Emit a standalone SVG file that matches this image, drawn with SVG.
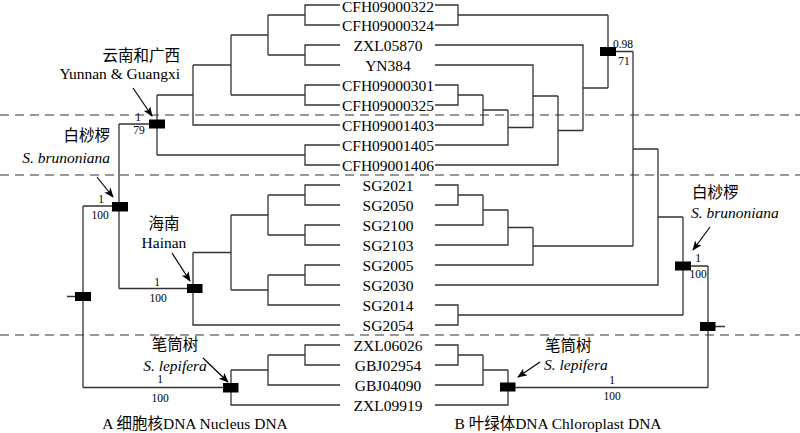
<svg xmlns="http://www.w3.org/2000/svg" width="800" height="433" viewBox="0 0 800 433">
<style>
text{font-family:"Liberation Serif","Times New Roman","Noto Sans CJK SC",serif;fill:#000}
.tip{font-size:15.5px;text-anchor:middle}
.lab{font-size:15.5px}
.it{font-style:italic}
.cap{font-size:15.5px;text-anchor:middle}
.sup{font-size:11.5px;text-anchor:middle}
.tree{fill:none;stroke:#333;stroke-width:1.3}
.dash{stroke:#333;stroke-width:1.2;stroke-dasharray:9 6}
.arr{stroke:#000;stroke-width:1.2;marker-end:url(#ah)}
.box{fill:#000}
</style>
<defs>
<marker id="ah" markerWidth="10" markerHeight="8" refX="9" refY="4" orient="auto" markerUnits="userSpaceOnUse">
<path d="M0,0 L10,4 L0,8 L2.5,4 Z" fill="#000"/>
</marker>
</defs>
<rect width="800" height="433" fill="#fff"/>
<g id="dividers">
<line class="dash" x1="0" y1="115" x2="800" y2="115"/>
<line class="dash" x1="0" y1="175" x2="800" y2="175"/>
<line class="dash" x1="0" y1="335" x2="800" y2="335"/>
</g>
<g id="connectors">
<path class="tree" d="M340,5 H305 V25 H340 M305,15 H268 M340,45 H305 V65 H340 M305,55 H268 M268,15 V55 M268,35 H231 M340,85 H305 V105 H340 M305,95 H231 M231,35 V95 M231,65 H193 M193,65 V125 H340 M193,95 H157 M340,145 H305 V165 H340 M305,155 H157 M157,95 V155 M157,124 H119"/>
<path class="tree" d="M340,185 H305 V205 H340 M305,195 H268 M340,225 H305 V245 H340 M305,235 H268 M268,195 V235 M268,215 H231 M340,265 H305 V285 H340 M305,275 H268 M268,275 V305 H340 M268,290 H231 M231,215 V290 M231,252.5 H193 M193,252.5 V325 H340 M193,288.5 H119 M119,124 V288.5 M119,206 H83"/>
<path class="tree" d="M340,345 H305 V365 H340 M305,355 H268 M268,355 V385 H340 M268,370 H231 M231,370 V405 H340 M231,387.5 H83 M83,206 V387.5 M67,296.5 H75"/>
<path class="tree" d="M435,5 H458 V25 H435 M458,15 H608 M435,85 H458 V105 H435 M458,95 H483 M483,95 V125 H435 M483,110 H508 M508,110 V145 H435 M508,127.5 H533 M435,65 H533 V127.5 M533,96 H558 M558,96 V165 H435 M558,130.5 H583 M435,45 H583 V130.5 M583,88 H608 M608,15 V88 M608,51.5 H633 M633,51.5 V246 M633,149 H658"/>
<path class="tree" d="M435,185 H458 V205 H435 M458,195 H483 M483,195 V225 H435 M483,210 H508 M508,210 V245 H435 M508,227.5 H533 M533,227.5 V265 H435 M533,246 H633 M658,149 V285 H435 M658,217 H683 M435,305 H458 V325 H435 M458,315 H683 M683,217 V315 M683,266 H708 M708,266 V387.5 M715,326.5 H725"/>
<path class="tree" d="M435,345 H458 V365 H435 M458,355 H483 M483,355 V385 H435 M483,370 H508 M508,370 V405 H435 M508,387.5 H708"/>
<line class="arr" x1="133" y1="88" x2="152" y2="116"/>
<line class="arr" x1="97" y1="177" x2="113" y2="197"/>
<line class="arr" x1="172" y1="253" x2="190" y2="281"/>
<line class="arr" x1="203" y1="358" x2="228" y2="382"/>
<line class="arr" x1="710" y1="227" x2="693" y2="250"/>
<line class="arr" x1="540" y1="362" x2="518" y2="377"/>
</g>
<g id="tips">
<text class="tip" x="388" y="11.5">CFH09000322</text>
<text class="tip" x="388" y="30.5">CFH09000324</text>
<text class="tip" x="388" y="50.5">ZXL05870</text>
<text class="tip" x="388" y="70.5">YN384</text>
<text class="tip" x="388" y="90.5">CFH09000301</text>
<text class="tip" x="388" y="110.5">CFH09000325</text>
<text class="tip" x="388" y="130.5">CFH09001403</text>
<text class="tip" x="388" y="150.5">CFH09001405</text>
<text class="tip" x="388" y="170.5">CFH09001406</text>
<text class="tip" x="388" y="190.5">SG2021</text>
<text class="tip" x="388" y="210.5">SG2050</text>
<text class="tip" x="388" y="230.5">SG2100</text>
<text class="tip" x="388" y="250.5">SG2103</text>
<text class="tip" x="388" y="270.5">SG2005</text>
<text class="tip" x="388" y="290.5">SG2030</text>
<text class="tip" x="388" y="310.5">SG2014</text>
<text class="tip" x="388" y="330.5">SG2054</text>
<text class="tip" x="388" y="350.5">ZXL06026</text>
<text class="tip" x="388" y="370.5">GBJ02954</text>
<text class="tip" x="388" y="390.5">GBJ04090</text>
<text class="tip" x="388" y="410.5">ZXL09919</text>
</g>
<g id="node-yunnan">
<rect class="box" x="149" y="119.5" width="16" height="9"/>
<text class="sup" x="138" y="121">1</text>
<text class="sup" x="139" y="134">79</text>
<text class="lab" x="180" y="61" text-anchor="end">云南和广西</text>
<text class="lab" x="180" y="79" text-anchor="end">Yunnan &amp; Guangxi</text>
</g>
<g id="node-brun-a">
<rect class="box" x="112" y="202" width="16" height="9.5"/>
<text class="sup" x="101" y="203">1</text>
<text class="sup" x="100" y="219">100</text>
<text class="lab" x="110" y="141" text-anchor="end">白桫椤</text>
<text class="lab it" x="110" y="163" text-anchor="end">S. brunoniana</text>
</g>
<g id="node-hainan">
<rect class="box" x="187" y="284" width="15.5" height="9"/>
<text class="sup" x="157" y="286">1</text>
<text class="sup" x="158" y="302">100</text>
<text class="lab" x="164" y="229" text-anchor="middle">海南</text>
<text class="lab" x="164" y="248" text-anchor="middle">Hainan</text>
</g>
<g id="node-root-a">
<rect class="box" x="75" y="292" width="16" height="9"/>
</g>
<g id="node-lepifera-a">
<rect class="box" x="223" y="383" width="15.5" height="9.5"/>
<text class="sup" x="160" y="383">1</text>
<text class="sup" x="160" y="402">100</text>
<text class="lab" x="175" y="350" text-anchor="middle">笔筒树</text>
<text class="lab it" x="175" y="371" text-anchor="middle">S. lepifera</text>
</g>
<g id="node-yunnan-b">
<rect class="box" x="600" y="47" width="16" height="9"/>
<text class="sup" x="623" y="48">0.98</text>
<text class="sup" x="624" y="65">71</text>
</g>
<g id="node-brun-b">
<rect class="box" x="675" y="261.5" width="16" height="9"/>
<text class="sup" x="698" y="262">1</text>
<text class="sup" x="698" y="278">100</text>
<text class="lab" x="692" y="198">白桫椤</text>
<text class="lab it" x="691" y="218">S. brunoniana</text>
</g>
<g id="node-root-b">
<rect class="box" x="700" y="322" width="15.5" height="9"/>
</g>
<g id="node-lepifera-b">
<rect class="box" x="500" y="382.5" width="15.5" height="9"/>
<text class="sup" x="612" y="384">1</text>
<text class="sup" x="612" y="400">100</text>
<text class="lab" x="545" y="351">笔筒树</text>
<text class="lab it" x="544" y="370">S. lepifera</text>
</g>
<g id="captions">
<text class="cap" x="195" y="429">A 细胞核DNA Nucleus DNA</text>
<text class="cap" x="558" y="429">B 叶绿体DNA Chloroplast DNA</text>
</g>
</svg>
